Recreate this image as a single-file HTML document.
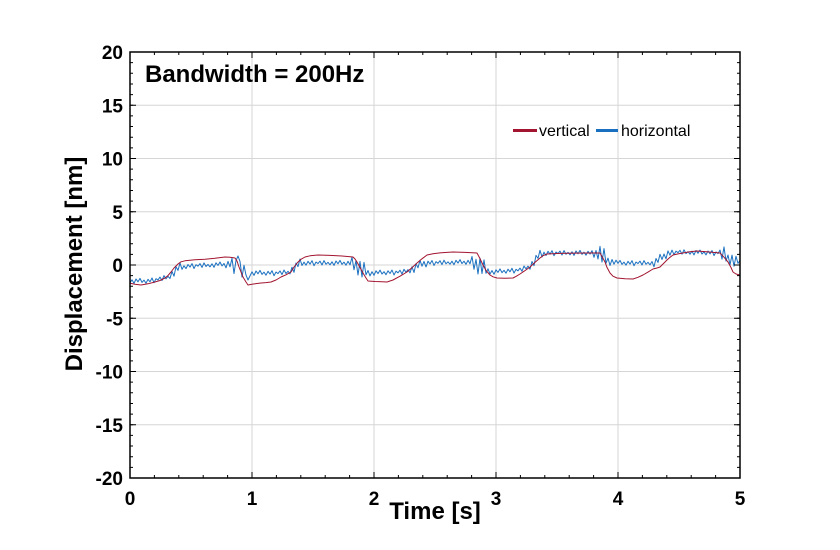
<!DOCTYPE html>
<html>
<head>
<meta charset="utf-8">
<style>
  html, body { margin:0; padding:0; background:#fff; }
  svg { display:block; }
  text { font-family: "Liberation Sans", Arial, sans-serif; font-weight: bold; fill:#000; }
</style>
</head>
<body>
<svg width="840" height="550" viewBox="0 0 840 550" xmlns="http://www.w3.org/2000/svg">
  <rect x="0" y="0" width="840" height="550" fill="#fff"/>
  <defs>
    <clipPath id="plotclip"><rect x="130" y="52" width="610" height="426"/></clipPath>
  </defs>
  <!-- grid -->
  <g stroke="#d6d6d6" stroke-width="1">
    <line x1="252" y1="52" x2="252" y2="478"/>
    <line x1="374" y1="52" x2="374" y2="478"/>
    <line x1="496" y1="52" x2="496" y2="478"/>
    <line x1="618" y1="52" x2="618" y2="478"/>
    <line x1="130" y1="105.25" x2="740" y2="105.25"/>
    <line x1="130" y1="158.5" x2="740" y2="158.5"/>
    <line x1="130" y1="211.75" x2="740" y2="211.75"/>
    <line x1="130" y1="265" x2="740" y2="265"/>
    <line x1="130" y1="318.25" x2="740" y2="318.25"/>
    <line x1="130" y1="371.5" x2="740" y2="371.5"/>
    <line x1="130" y1="424.75" x2="740" y2="424.75"/>
  </g>

  <!-- data -->
  <g clip-path="url(#plotclip)" fill="none" stroke-linejoin="round">
    <polyline stroke="#1a70c0" stroke-width="1" points="130,282.8 132,279.8 134,283.4 136,279.0 138,281.8 140,278.4 142,282.4 144,280.1 146,283.2 148,279.3 150,281.8 152,278.0 154,282.7 156,278.7 158,279.9 160,277.1 162,280.5 164,275.6 166,278.8 168,276.3 170,278.5 172,271.4 174,276.2 176,266.7 178,270.4 180,263.0 182,269.4 184,265.8 186,268.6 188,264.5 190,267.1 192,263.6 194,268.5 196,264.7 198,266.2 200,263.6 202,267.4 204,262.9 206,266.5 208,264.4 210,266.9 212,263.8 214,267.3 216,262.8 218,265.5 220,262.0 222,265.9 224,263.5 226,267.8 228,261.4 230,266.8 232,258.3 234,273.5 236,260.5 238,256 240,261.4 242,277 244,265.3 246,275.1 248,280 250,275.9 252,271.8 254,275.4 256,271.0 258,273.8 260,270.4 262,274.4 264,272.1 266,275.2 268,271.3 270,274.1 272,270.7 274,275.7 276,272.0 278,273.6 280,270.9 282,274.6 284,270.0 286,273.5 288,271.3 290,273.9 292,267.2 294,272.3 296,263.0 298,266.6 300,259.0 302,265.5 304,262.1 306,265.2 308,261.3 310,264.1 312,260.7 314,265.7 316,262.0 318,263.6 320,261.1 322,265.0 324,260.6 326,264.3 328,262.3 330,264.8 332,261.8 334,265.4 336,261.0 338,263.8 340,260.4 342,264.4 344,262.1 346,265.2 348,261.3 350,264.8 352,257.3 354,269.8 356,260.5 358,275 360,261.4 362,277 364,262.4 366,274.8 368,270.5 370,275.9 372,271.7 374,275.3 376,270.8 378,273.6 380,270.1 382,274.0 384,271.7 386,274.7 388,270.8 390,273.5 392,270.0 394,275.0 396,271.2 398,272.8 400,270.2 402,274.0 404,269.3 406,272.3 408,269.6 410,272.9 412,266.8 414,272.5 416,263.8 418,267.8 420,260.3 422,266.2 424,261.4 426,266.9 428,261.2 430,264.0 432,260.5 434,265.5 436,261.7 438,263.3 440,260.7 442,264.6 444,260.2 446,263.8 448,261.8 450,264.2 452,261.2 454,264.7 456,260.3 458,263.1 460,259.6 462,263.6 464,261.2 466,264.3 468,260.3 470,263.8 472,256.5 474,269.3 476,259.3 478,274 480,258.1 482,273.5 484,259.9 486,273.3 488,268.8 490,274.0 492,270.5 494,274.3 496,269.8 498,272.4 500,268.9 502,272.7 504,270.3 506,273.2 508,269.2 510,271.8 512,268.3 514,273.1 516,269.3 518,270.8 520,268.1 522,271.2 524,266.0 526,268.9 528,266.1 530,269.2 532,261.5 534,265.7 536,255.4 538,258.4 540,250.3 542,257.0 544,252.2 546,255.5 548,251.3 550,254.1 552,250.7 554,255.7 556,252.0 558,253.6 560,251.1 562,255.0 564,250.6 566,254.3 568,252.3 570,254.8 572,251.8 574,255.4 576,251.0 578,253.8 580,250.4 582,254.4 584,252.1 586,255.2 588,251.3 590,254.1 592,250.7 594,257.3 596,250.5 598,259 600,246.4 602,262 604,248.6 606,263.2 608,258.1 610,265.5 612,259.5 614,264.2 616,260.2 618,263.4 620,260.4 622,264.4 624,262.1 626,265.2 628,261.3 630,264.1 632,260.7 634,265.7 636,262.0 638,263.6 640,261.1 642,265.0 644,260.6 646,264.3 648,262.3 650,264.8 652,261.5 654,266.8 656,258.5 658,262.4 660,254.3 662,259.5 664,254.0 666,258.8 668,250.9 670,255.2 672,250.1 674,254.7 676,251.1 678,252.7 680,250.3 682,254.2 684,249.8 686,253.6 688,251.6 690,254.2 692,251.2 694,254.9 696,250.5 698,253.3 700,250.0 702,254.0 704,251.8 706,254.9 708,251.0 710,253.9 712,250.5 714,255.6 716,251.9 718,253.6 720,250.0 722,259.1 724,246.9 726,261.0 728,255.0 730,264.7 732,255.1 734,266.2 736,256.2 738,263.4 740,260.4"/>
    <polyline stroke="#a2142f" stroke-width="1" points="130,283.2 135,284.3 141,285 148,283.8 155,282 160,280.5 165,278 168,275.5 171,272 174,268 178,264 181,261.8 185,260.8 190,260.2 195,259.8 205,259.2 215,258.3 225,257 230,257.3 235,258 237,261 239,267 241,272 243,277 246,282 248,285 252,284.3 256,283.6 261,283 266,282.6 271,282 276,280 281,277 286,274.8 291,272 294,267 298,262 301,259.3 305,257 310,255.8 318,255 330,255.4 342,256 353,257 355,259 357,262 360,267.5 363,273 366,278 368,281 375,281.5 382,281.8 387,282 393,280 400,276.2 407,272 412,267.6 417,263 422,258.8 427,255 433,253.8 440,252.9 447,252.4 453,252 465,252.4 477,253 480,258.6 483,265 486,270.4 490,275 493,276.8 497,278 505,278.2 513,278 516,276.4 520,274 525,270.6 530,267 535,262.4 540,258 543,255.7 547,254 560,253.4 575,253.1 590,253 600,253 602,256.5 605,262 607,267.4 610,273 613,276.2 617,278 625,278.7 633,279 638,277.3 643,275 648,272.1 653,269 657,268 660,267 663,264 667,260 670,257.3 673,255 680,253.5 690,251.8 697,251 708,251.9 720,253 724,257.2 728,262 731,267.5 733,272 736,274 740,275"/>
  </g>

  <!-- ticks (dash trick) -->
  <g stroke="#000" fill="none">
    <line x1="130" y1="476.5" x2="740" y2="476.5" stroke-width="3" stroke-dasharray="1 23.4" stroke-dashoffset="0.5"/>
    <line x1="130" y1="53.5" x2="740" y2="53.5" stroke-width="3" stroke-dasharray="1 23.4" stroke-dashoffset="0.5"/>
    <line x1="130" y1="475" x2="740" y2="475" stroke-width="6" stroke-dasharray="1 121" stroke-dashoffset="0.5"/>
    <line x1="130" y1="55" x2="740" y2="55" stroke-width="6" stroke-dasharray="1 121" stroke-dashoffset="0.5"/>
    <line x1="131.5" y1="52" x2="131.5" y2="478" stroke-width="3" stroke-dasharray="1 9.65" stroke-dashoffset="0.5"/>
    <line x1="738.5" y1="52" x2="738.5" y2="478" stroke-width="3" stroke-dasharray="1 9.65" stroke-dashoffset="0.5"/>
    <line x1="133" y1="52" x2="133" y2="478" stroke-width="6" stroke-dasharray="1 52.25" stroke-dashoffset="0.5"/>
    <line x1="737" y1="52" x2="737" y2="478" stroke-width="6" stroke-dasharray="1 52.25" stroke-dashoffset="0.5"/>
  </g>
  <!-- axes box -->
  <rect x="130" y="52" width="610" height="426" fill="none" stroke="#000" stroke-width="1.5"/>

  <!-- y tick labels -->
  <g font-size="19" text-anchor="end">
    <text x="123" y="59">20</text>
    <text x="123" y="112.25">15</text>
    <text x="123" y="165.5">10</text>
    <text x="123" y="218.75">5</text>
    <text x="123" y="272">0</text>
    <text x="123" y="325.25">-5</text>
    <text x="123" y="378.5">-10</text>
    <text x="123" y="431.75">-15</text>
    <text x="123" y="485">-20</text>
  </g>
  <!-- x tick labels -->
  <g font-size="19" text-anchor="middle">
    <text x="130" y="505">0</text>
    <text x="252" y="505">1</text>
    <text x="374" y="505">2</text>
    <text x="496" y="505">3</text>
    <text x="618" y="505">4</text>
    <text x="740" y="505">5</text>
  </g>

  <!-- axis labels -->
  <text x="435" y="519" font-size="24" text-anchor="middle">Time [s]</text>
  <text transform="translate(82,264) rotate(-90)" font-size="24" text-anchor="middle">Displacement [nm]</text>

  <!-- title -->
  <text x="145" y="82" font-size="24">Bandwidth = 200Hz</text>

  <!-- legend -->
  <line x1="513" y1="130.5" x2="537" y2="130.5" stroke="#a2142f" stroke-width="3"/>
  <text x="539" y="136" font-size="16" style="font-weight:normal">vertical</text>
  <line x1="596" y1="130.5" x2="618" y2="130.5" stroke="#1a70c0" stroke-width="3"/>
  <text x="621" y="136" font-size="16" style="font-weight:normal">horizontal</text>
</svg>
</body>
</html>
